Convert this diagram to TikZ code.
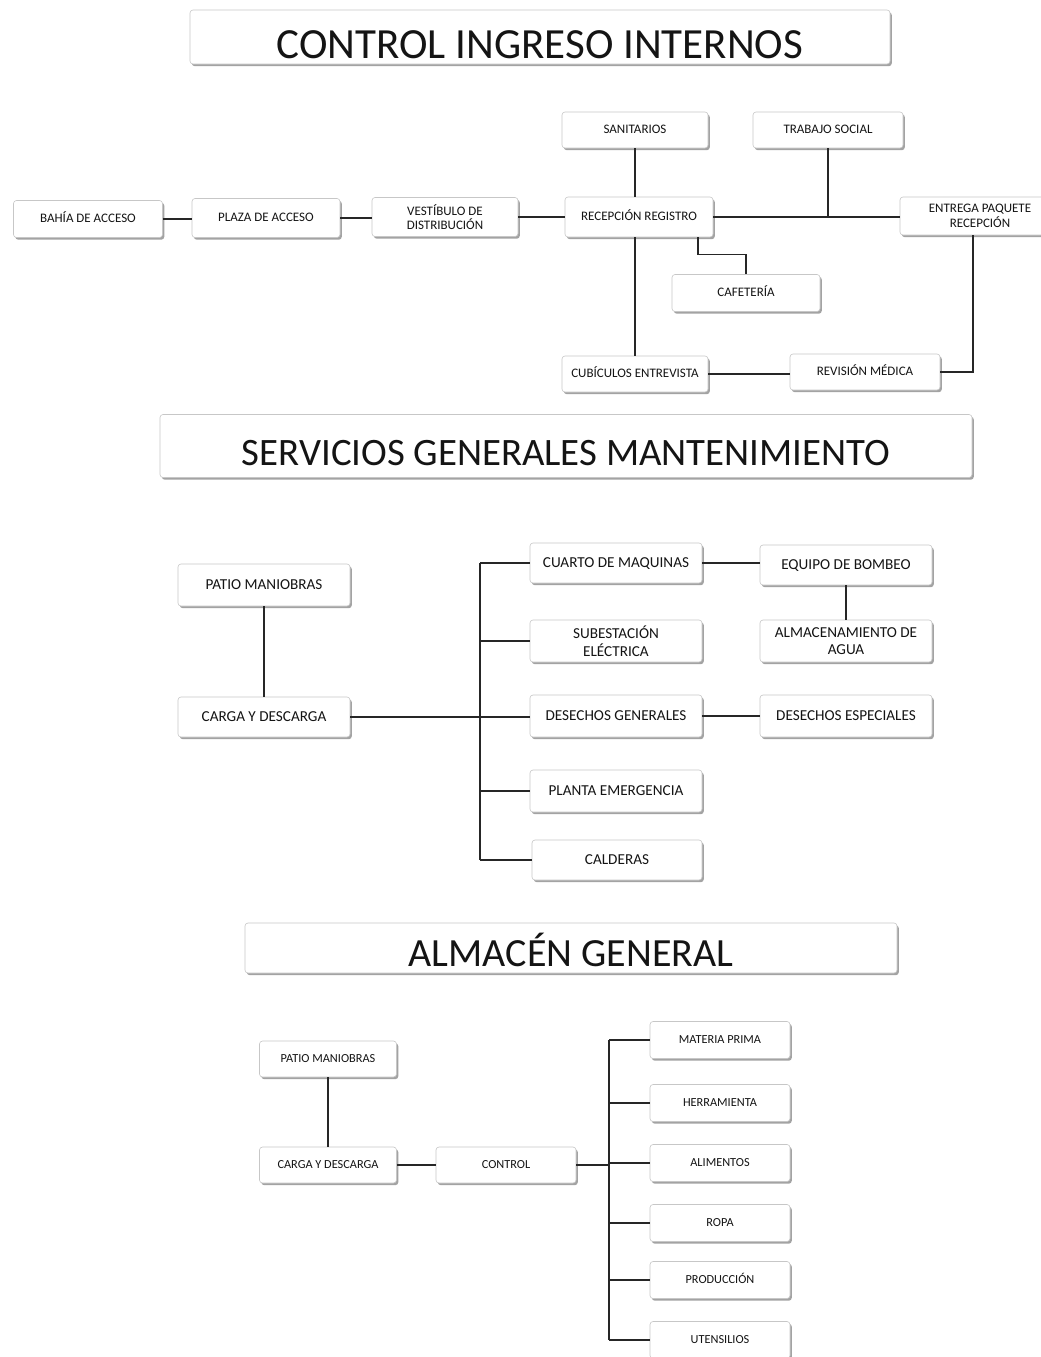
\documentclass[tikz,border=0pt]{standalone}
\usepackage{fontspec}
\setmainfont{Carlito}
\usetikzlibrary{shadows}
\begin{document}
\begin{tikzpicture}[x=1pt,y=-1pt,
  box/.style={draw=black!22, line width=0.6pt, fill=white, rounded corners=3pt,
    drop shadow={shadow xshift=1.8pt, shadow yshift=-2.2pt, fill=black!60, opacity=0.6},
    align=center, inner sep=0pt, text=black!92, text depth=0pt},
  twoline/.style={text height=, text depth=},
  titlebox/.style={box, text depth=0pt},
  sa/.style={box, font=\fontsize{13}{14.5}\selectfont, text height=7pt},
  sb/.style={box, font=\fontsize{15.2}{17.5}\selectfont, text height=8pt},
  sc/.style={box, font=\fontsize{12.3}{14}\selectfont, text height=6.6pt},
  link/.style={draw=black!85, line width=1.1pt}]
\useasboundingbox[fill=white] (0,0) rectangle (1041,1357);

% ---------- Section 1 ----------
\node[titlebox, font=\fontsize{43}{48}\selectfont, text height=42pt, minimum width=700, minimum height=54] (t1) at (540,37) {CONTROL INGRESO INTERNOS};
\node[sa, minimum width=149, minimum height=37] (bahia) at (88,219) {BAHÍA DE ACCESO};
\node[sa, minimum width=148, minimum height=39] (plaza) at (266,218) {PLAZA DE ACCESO};
\node[sa, twoline, minimum width=146, minimum height=39] (vest) at (445,217) {VESTÍBULO DE\\DISTRIBUCIÓN};
\node[sa, minimum width=148, minimum height=40] (recep) at (639,217) {RECEPCIÓN REGISTRO};
\node[sa, minimum width=146, minimum height=36] (sanit) at (635,130) {SANITARIOS};
\node[sa, minimum width=150, minimum height=36] (trab) at (828,130) {TRABAJO SOCIAL};
\node[sa, twoline, minimum width=160, minimum height=38] (entrega) at (980,216) {ENTREGA PAQUETE\\RECEPCIÓN};
\node[sa, minimum width=148, minimum height=37] (cafe) at (746,293) {CAFETERÍA};
\node[sa, minimum width=146, minimum height=36] (cubic) at (635,374) {CUBÍCULOS ENTREVISTA};
\node[sa, minimum width=150, minimum height=36] (revis) at (865,372) {REVISIÓN MÉDICA};

\draw[link] (bahia.east) -- (bahia.east -| plaza.west);
\draw[link] (plaza.east) -- (plaza.east -| vest.west);
\draw[link] (vest.east) -- (vest.east -| recep.west);
\draw[link] (sanit.south) -- (sanit.south |- recep.north);
\draw[link] (sanit.south |- recep.south) -- (cubic.north);
\draw[link] (recep.east) -- (recep.east -| entrega.west);
\draw[link] (trab.south) -- (trab.south |- recep.east);
\draw[link] (recep.south) ++(59,0) -- ++(0,17) -| (cafe.north);
\draw[link] (cubic.east) -- (cubic.east -| revis.west);
\draw[link] (revis.east) -| ([xshift=-7pt]entrega.south);

% ---------- Section 2 ----------
\node[titlebox, font=\fontsize{38.8}{44}\selectfont, text height=39pt, minimum width=812, minimum height=63] (t2) at (566,446) {SERVICIOS GENERALES MANTENIMIENTO};
\node[sb, minimum width=172, minimum height=42] (patio2) at (264,585) {PATIO MANIOBRAS};
\node[sb, minimum width=172, minimum height=40] (carga2) at (264,717) {CARGA Y DESCARGA};
\node[sb, minimum width=172, minimum height=40] (cuarto) at (616,563) {CUARTO DE MAQUINAS};
\node[sb, twoline, minimum width=172, minimum height=42] (subest) at (616,641) {SUBESTACIÓN\\ELÉCTRICA};
\node[sb, minimum width=172, minimum height=42] (desgen) at (616,716) {DESECHOS GENERALES};
\node[sb, minimum width=172, minimum height=42] (planta) at (616,791) {PLANTA EMERGENCIA};
\node[sb, minimum width=170, minimum height=40] (cald) at (617,860) {CALDERAS};
\node[sb, minimum width=172, minimum height=40] (equipo) at (846,565) {EQUIPO DE BOMBEO};
\node[sb, twoline, minimum width=172, minimum height=42] (almac) at (846,641) {ALMACENAMIENTO DE\\AGUA};
\node[sb, minimum width=172, minimum height=42] (desesp) at (846,716) {DESECHOS ESPECIALES};
\coordinate (bus2) at (480,0);

\draw[link] (patio2.south) -- (carga2.north);
\draw[link] (carga2.east) -- (carga2.east -| desgen.west);
\draw[link] (cuarto.west -| bus2) -- (cald.west -| bus2);
\draw[link] (cuarto.west) -- (cuarto.west -| bus2);
\draw[link] (subest.west) -- (subest.west -| bus2);
\draw[link] (planta.west) -- (planta.west -| bus2);
\draw[link] (cald.west) -- (cald.west -| bus2);
\draw[link] (cuarto.east) -- (cuarto.east -| equipo.west);
\draw[link] (equipo.south) -- (almac.north);
\draw[link] (desgen.east) -- (desgen.east -| desesp.west);

% ---------- Section 3 ----------
\node[titlebox, font=\fontsize{40}{44}\selectfont, text height=36pt, minimum width=652, minimum height=50] (t3) at (571,948) {ALMACÉN GENERAL};
\node[sc, minimum width=137, minimum height=36] (patio3) at (328,1059) {PATIO MANIOBRAS};
\node[sc, minimum width=137, minimum height=36] (carga3) at (328,1165) {CARGA Y DESCARGA};
\node[sc, minimum width=140, minimum height=36] (control) at (506,1165) {CONTROL};
\node[sc, minimum width=140, minimum height=37] (materia) at (720,1040) {MATERIA PRIMA};
\node[sc, minimum width=140, minimum height=37] (herr) at (720,1103) {HERRAMIENTA};
\node[sc, minimum width=140, minimum height=37] (alim) at (720,1163) {ALIMENTOS};
\node[sc, minimum width=140, minimum height=37] (ropa) at (720,1223) {ROPA};
\node[sc, minimum width=140, minimum height=37] (prod) at (720,1280) {PRODUCCIÓN};
\node[sc, minimum width=140, minimum height=37] (uten) at (720,1340) {UTENSILIOS};
\coordinate (bus3) at (609,0);

\draw[link] (patio3.south) -- (carga3.north);
\draw[link] (carga3.east) -- (control.west);
\draw[link] (control.east) -- (control.east -| bus3);
\draw[link] (materia.west -| bus3) -- (uten.west -| bus3);
\draw[link] (materia.west) -- (materia.west -| bus3);
\draw[link] (herr.west) -- (herr.west -| bus3);
\draw[link] (alim.west) -- (alim.west -| bus3);
\draw[link] (ropa.west) -- (ropa.west -| bus3);
\draw[link] (prod.west) -- (prod.west -| bus3);
\draw[link] (uten.west) -- (uten.west -| bus3);
\end{tikzpicture}
\end{document}
